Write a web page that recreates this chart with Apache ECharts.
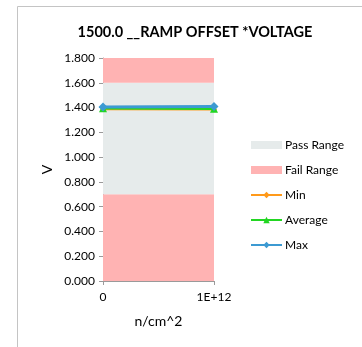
<!DOCTYPE html>
<html>
<head>
<meta charset="utf-8">
<script src="https://cdn.jsdelivr.net/npm/echarts@6/dist/echarts.min.js"></script>
<style>
  html, body { margin: 0; padding: 0; background: #ffffff; }
  #chart { width: 362px; height: 347px; }
</style>
</head>
<body>
<div id="chart"></div>
<script>
// Fluence points on the x axis
const categories = ['0', '1E+12'];

// Measured voltages at each fluence
const minValues = [1.388, 1.386];
const avgValues = [1.394, 1.391];
const maxValues = [1.404, 1.408];

// Limit bands, stacked from 0 upward: fail below, pass window, fail above
const failLowBand = [0.7, 0.7];
const passBand = [0.9, 0.9];
const failHighBand = [0.2, 0.2];

// Y axis ticks
const yMin = 0;
const yMax = 1.8;
const yStep = 0.2;

const FONT = 'Lato, "Liberation Sans", sans-serif';
const PASS_COLOR = '#E6EBEB';
const FAIL_COLOR = '#FFB3B3';

function bandSeries(name, data, color) {
  return {
    name: name,
    type: 'line',
    stack: 'limits',
    data: data,
    symbol: 'none',
    lineStyle: { width: 0, opacity: 0 },
    areaStyle: { color: color, opacity: 1 },
    itemStyle: { color: color },
    silent: true,
    z: 1
  };
}

function valueSeries(name, data, color, symbol, size, width, z) {
  return {
    name: name,
    type: 'line',
    data: data,
    symbol: symbol,
    symbolSize: size,
    lineStyle: { color: color, width: width },
    itemStyle: { color: color },
    z: z
  };
}

const chart = echarts.init(document.getElementById('chart'), null, { renderer: 'canvas' });

chart.setOption({
  animation: false,
  backgroundColor: '#ffffff',
  graphic: [{
    type: 'rect',
    shape: { x: 17.5, y: 6.5, width: 400, height: 400 },
    style: { fill: 'none', stroke: '#C4C4C4', lineWidth: 1 },
    z: -1
  }],
  title: {
    text: '1500.0 __RAMP OFFSET *VOLTAGE',
    left: 190,
    textAlign: 'center',
    top: 20,
    textStyle: { fontFamily: FONT, fontSize: 14.5, fontWeight: 'bold', color: '#000000' }
  },
  legend: {
    orient: 'vertical',
    left: 250,
    top: 138,
    padding: [0, 0, 0, 0],
    itemWidth: 31,
    itemHeight: 8,
    itemGap: 11,
    data: [
      { name: 'Pass Range', icon: 'rect' },
      { name: 'Fail Range', icon: 'rect' },
      'Min', 'Average', 'Max'
    ],
    textStyle: { fontFamily: FONT, fontSize: 12, color: '#000000', lineHeight: 14, padding: [0, 0, 0, -2] }
  },
  grid: { left: 103, right: 148, top: 58, bottom: 66, containLabel: false },
  xAxis: {
    type: 'category',
    data: categories,
    boundaryGap: false,
    name: 'n/cm^2',
    nameLocation: 'middle',
    nameGap: 33,
    nameTextStyle: { fontFamily: FONT, fontSize: 14, color: '#000000' },
    axisLine: { lineStyle: { color: '#9A9A9A' } },
    axisTick: { show: true, length: 4, lineStyle: { color: '#9A9A9A' } },
    axisLabel: { fontFamily: FONT, fontSize: 12, color: '#000000', margin: 10 },
    splitLine: { show: false }
  },
  yAxis: {
    type: 'value',
    min: yMin,
    max: yMax,
    interval: yStep,
    name: 'V',
    nameLocation: 'middle',
    nameGap: 49,
    nameRotate: 90,
    nameTextStyle: { fontFamily: FONT, fontSize: 14, color: '#000000' },
    axisLine: { show: true, lineStyle: { color: '#9A9A9A' } },
    axisTick: { show: true, length: 4, lineStyle: { color: '#9A9A9A' } },
    axisLabel: {
      fontFamily: FONT, fontSize: 12, color: '#000000', margin: 8,
      formatter: v => v.toFixed(3)
    },
    splitLine: { show: false }
  },
  series: [
    bandSeries('Fail Range', failLowBand, FAIL_COLOR),
    bandSeries('Pass Range', passBand, PASS_COLOR),
    bandSeries('Fail Range', failHighBand, FAIL_COLOR),
    valueSeries('Min', minValues, '#FF9A1A', 'diamond', 6, 2.5, 3),
    valueSeries('Average', avgValues, '#22D622', 'triangle', 8, 2.5, 4),
    valueSeries('Max', maxValues, '#3C9AD2', 'diamond', 9, 3, 5)
  ]
});
</script>
</body>
</html>
